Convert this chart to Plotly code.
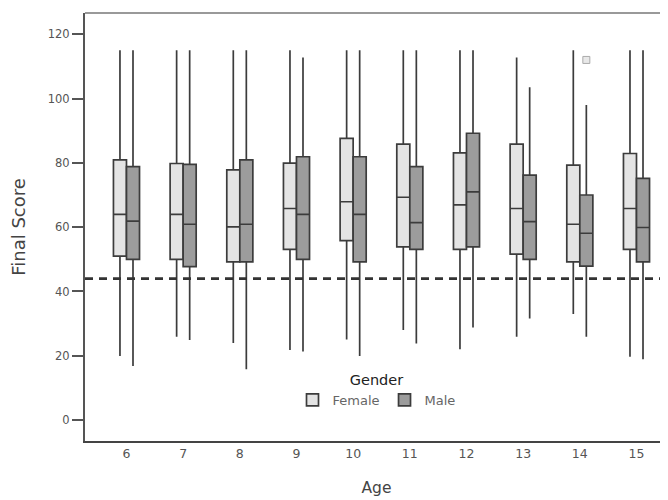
import plotly.graph_objects as go

ages = [6, 7, 8, 9, 10, 11, 12, 13, 14, 15]

female_lo = [19.9, 25.9, 24.0, 21.8, 25.1, 28.0, 22.0, 25.9, 33.0, 19.7]
female_q1 = [51.0, 50.0, 49.2, 53.1, 55.8, 53.9, 53.1, 51.6, 49.2, 53.1]
female_med = [64.0, 64.0, 60.1, 65.8, 67.9, 69.3, 66.9, 65.8, 60.9, 65.8]
female_q3 = [80.9, 79.8, 77.8, 79.9, 87.6, 85.8, 83.1, 85.8, 79.3, 82.9]
female_hi = [115, 115, 115, 115, 115, 115, 115, 112.8, 115, 115]

male_lo = [16.8, 24.9, 15.8, 21.3, 19.9, 23.8, 28.8, 31.6, 25.9, 18.9]
male_q1 = [50.0, 47.7, 49.2, 50.0, 49.2, 53.1, 53.9, 50.0, 47.9, 49.2]
male_med = [61.9, 60.9, 60.9, 64.0, 64.0, 61.4, 71.0, 61.7, 58.1, 59.9]
male_q3 = [78.8, 79.5, 80.9, 81.9, 81.9, 78.8, 89.2, 76.2, 70.0, 75.2]
male_hi = [115, 115, 115, 112.8, 115, 115, 115, 103.5, 98.0, 115]

male_outlier_age = [14]
male_outlier_val = [112]

cutoff = 44
y_ticks = [0, 20, 40, 60, 80, 100, 120]

BOXGAP = 0.54
FONT = "DejaVu Sans, Liberation Sans, Arial, sans-serif"

fig = go.Figure()
fig.add_trace(go.Box(
    name="Female", x=ages, q1=female_q1, median=female_med, q3=female_q3,
    lowerfence=female_lo, upperfence=female_hi,
    fillcolor="#e4e4e4", line=dict(color="#3c3c3c", width=1.7),
    whiskerwidth=0, boxpoints=False,
))
fig.add_trace(go.Box(
    name="Male", x=ages, q1=male_q1, median=male_med, q3=male_q3,
    lowerfence=male_lo, upperfence=male_hi,
    fillcolor="#9c9c9c", line=dict(color="#3c3c3c", width=1.7),
    whiskerwidth=0, boxpoints=False,
))

offset = (1 - BOXGAP) / 4
fig.add_trace(go.Scatter(
    x=[a + offset for a in male_outlier_age], y=male_outlier_val,
    mode="markers", showlegend=False,
    marker=dict(symbol="square", size=7, color="#e8e8e8",
                line=dict(color="#aaaaaa", width=1)),
))

fig.add_hline(y=cutoff, line=dict(color="#333333", width=2.8, dash="8px,6px"))
fig.add_shape(type="line", xref="paper", yref="paper", x0=0, x1=1, y0=1, y1=1,
              line=dict(color="#999999", width=2))

fig.update_layout(
    width=660, height=492,
    margin=dict(l=77, r=0, t=5, b=59),
    paper_bgcolor="white", plot_bgcolor="white",
    boxmode="group", boxgap=BOXGAP, boxgroupgap=0,
    font=dict(family=FONT, size=12, color="#555555"),
    legend=dict(
        orientation="h", x=0.5, xanchor="center", y=0.175, yanchor="top",
        title=dict(text="Gender", side="top center",
                   font=dict(family=FONT, size=14.5, color="#222222")),
        font=dict(family=FONT, size=13, color="#666666"),
        bgcolor="rgba(0,0,0,0)", itemwidth=30, tracegroupgap=0,
    ),
    xaxis=dict(
        range=[5.268, 15.556], tickvals=ages, ticktext=[str(a) for a in ages],
        showline=True, linecolor="#444444", linewidth=2, ticks="",
        showgrid=False, zeroline=False, automargin=False,
        tickfont=dict(family=FONT, size=12.5, color="#555555"),
        title=dict(text="Age", font=dict(family=FONT, size=15.5, color="#444444"), standoff=22),
    ),
    yaxis=dict(
        range=[-6.5, 126.6], tickvals=y_ticks,
        showline=True, linecolor="#555555", linewidth=2,
        ticks="outside", ticklen=11, tickwidth=2, tickcolor="#555555",
        showgrid=False, zeroline=False, automargin=False,
        tickfont=dict(family=FONT, size=11.5, color="#555555"),
        title=dict(text="Final Score", font=dict(family=FONT, size=18, color="#444444"), standoff=18),
    ),
)

fig.write_html("out.html")
